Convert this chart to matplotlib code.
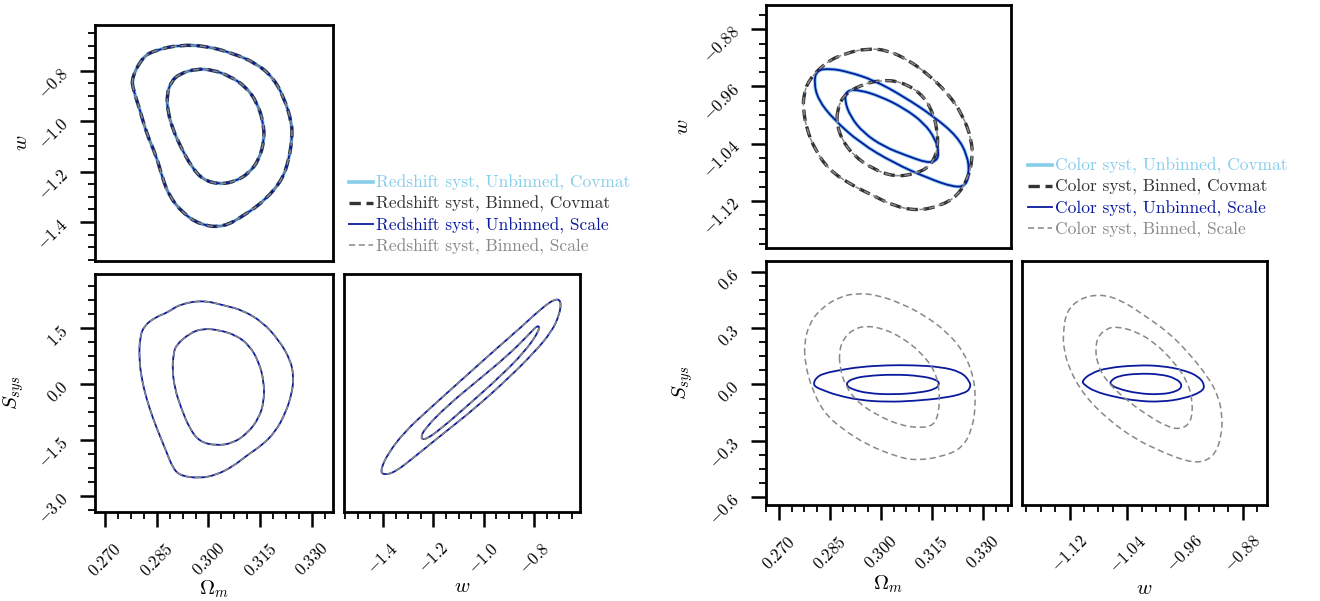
"""
Two triangle plots of contours: redshift syst (left), color syst (right).
Contours read off the reference figure, in data units.
"""

import numpy as np
import matplotlib.pyplot as plt
from matplotlib.lines import Line2D
from matplotlib.path import Path
from matplotlib.patches import PathPatch
from matplotlib.ticker import MultipleLocator, AutoMinorLocator, FuncFormatter

plt.rcParams["font.family"] = "serif"
plt.rcParams["font.serif"] = ["cmr10", "DejaVu Serif"]
plt.rcParams["mathtext.fontset"] = "cm"
plt.rcParams["axes.formatter.use_mathtext"] = True

# ---------------- data: redshift syst (left) ----------------
# (Omega_m, w) - all four chains coincide
z_omw_outer = [(0.2777, -0.829), (0.2810, -0.743), (0.2849, -0.717), (0.2916, -0.697),
               (0.2993, -0.701), (0.3070, -0.730), (0.3137, -0.769), (0.3185, -0.823),
               (0.3218, -0.902), (0.3242, -1.007), (0.3242, -1.073), (0.3233, -1.152),
               (0.3214, -1.232), (0.3166, -1.311), (0.3108, -1.370), (0.3041, -1.423),
               (0.2974, -1.410), (0.2925, -1.364), (0.2887, -1.298), (0.2868, -1.232),
               (0.2849, -1.139), (0.2820, -1.047), (0.2801, -0.954), (0.2782, -0.875)]
z_omw_inner = [(0.2916, -0.812), (0.2964, -0.792), (0.3012, -0.796), (0.3060, -0.820),
               (0.3108, -0.862), (0.3142, -0.928), (0.3159, -1.007), (0.3162, -1.073),
               (0.3147, -1.152), (0.3118, -1.205), (0.3080, -1.238), (0.3032, -1.251),
               (0.2983, -1.232), (0.2950, -1.179), (0.2921, -1.106), (0.2897, -1.034),
               (0.2882, -0.961), (0.2879, -0.895), (0.2892, -0.842)]
# (Omega_m, S_sys) - the two Scale chains coincide
z_oms_outer = [(0.2801, 1.267), (0.2815, 1.581), (0.2849, 1.803), (0.2882, 1.921),
               (0.2916, 2.135), (0.2983, 2.250), (0.3050, 2.098), (0.3098, 1.982),
               (0.3156, 1.669), (0.3204, 1.179), (0.3238, 0.643), (0.3247, 0.196),
               (0.3242, -0.249), (0.3223, -0.785), (0.3194, -1.278), (0.3156, -1.634),
               (0.3113, -1.902), (0.3070, -2.215), (0.3022, -2.438), (0.2974, -2.527),
               (0.2916, -2.456), (0.2895, -2.215), (0.2878, -1.813), (0.2858, -1.366),
               (0.2839, -0.919), (0.2820, -0.384), (0.2806, 0.152), (0.2799, 0.688)]
z_oms_inner = [(0.2906, 1.045), (0.2945, 1.357), (0.2983, 1.491), (0.3031, 1.447),
               (0.3079, 1.313), (0.3118, 1.045), (0.3146, 0.598), (0.3161, 0.063),
               (0.3161, -0.473), (0.3146, -0.919), (0.3113, -1.322), (0.3070, -1.589),
               (0.3022, -1.652), (0.2974, -1.545), (0.2945, -1.188), (0.2921, -0.652),
               (0.2902, -0.116), (0.2895, 0.420), (0.2899, 0.822)]
# (w, S_sys)
z_ws_outer = [(-1.410, -2.300), (-1.380, -1.857), (-1.314, -1.277), (-1.221, -0.697),
              (-1.089, 0.107), (-0.956, 0.911), (-0.850, 1.536), (-0.771, 2.028),
              (-0.717, 2.290), (-0.692, 2.230), (-0.700, 1.849), (-0.731, 1.402),
              (-0.797, 0.866), (-0.903, 0.152), (-1.035, -0.652), (-1.168, -1.366),
              (-1.274, -1.947), (-1.353, -2.367), (-1.400, -2.440)]
z_ws_inner = [(-1.252, -1.460), (-1.234, -1.188), (-1.142, -0.563), (-1.022, 0.107),
              (-0.903, 0.777), (-0.823, 1.313), (-0.784, 1.600), (-0.778, 1.447),
              (-0.837, 0.866), (-0.943, 0.152), (-1.062, -0.563), (-1.168, -1.188),
              (-1.230, -1.490)]

# ---------------- data: color syst (right) ----------------
# (Omega_m, w) unbinned (Covmat and Scale coincide)
c_omw_unb_outer = [(0.2811, -0.937), (0.2851, -0.935), (0.2900, -0.939), (0.2979, -0.951),
                   (0.3067, -0.974), (0.3156, -1.002), (0.3225, -1.030), (0.3255, -1.057),
                   (0.3260, -1.081), (0.3250, -1.099), (0.3215, -1.101), (0.3137, -1.088),
                   (0.3038, -1.067), (0.2939, -1.039), (0.2861, -1.006), (0.2816, -0.979),
                   (0.2803, -0.955)]
c_omw_unb_inner = [(0.2900, -0.965), (0.2939, -0.965), (0.2999, -0.974), (0.3067, -0.990),
                   (0.3127, -1.011), (0.3161, -1.034), (0.3171, -1.053), (0.3164, -1.064),
                   (0.3137, -1.067), (0.3077, -1.057), (0.3008, -1.044), (0.2949, -1.025),
                   (0.2910, -1.002), (0.2893, -0.979)]
# (Omega_m, w) binned (Covmat and Scale coincide)
c_omw_bin_outer = [(0.2772, -0.974), (0.2787, -0.951), (0.2841, -0.925), (0.2900, -0.913),
                   (0.2959, -0.907), (0.3018, -0.909), (0.3077, -0.922), (0.3137, -0.942),
                   (0.3196, -0.969), (0.3240, -0.999), (0.3267, -1.034), (0.3270, -1.062),
                   (0.3255, -1.090), (0.3225, -1.113), (0.3176, -1.127), (0.3107, -1.134),
                   (0.3038, -1.127), (0.2979, -1.113), (0.2910, -1.097), (0.2846, -1.076),
                   (0.2806, -1.048), (0.2782, -1.020), (0.2772, -0.993)]
c_omw_bin_inner = [(0.2871, -0.995), (0.2888, -0.973), (0.2939, -0.958), (0.2999, -0.951),
                   (0.3058, -0.953), (0.3117, -0.969), (0.3151, -0.993), (0.3166, -1.020),
                   (0.3168, -1.048), (0.3146, -1.072), (0.3097, -1.083), (0.3038, -1.086),
                   (0.2979, -1.076), (0.2920, -1.057), (0.2885, -1.034), (0.2871, -1.013)]
# (Omega_m, S_sys)
c_oms_unb_outer = [(0.2801, 0.000), (0.2809, 0.036), (0.2831, 0.059), (0.2880, 0.077),
                   (0.2939, 0.094), (0.3018, 0.103), (0.3097, 0.103), (0.3176, 0.094),
                   (0.3235, 0.068), (0.3262, 0.018), (0.3264, -0.021), (0.3245, -0.048),
                   (0.3186, -0.072), (0.3097, -0.088), (0.3018, -0.093), (0.2939, -0.084),
                   (0.2870, -0.057), (0.2831, -0.031), (0.2811, -0.016)]
c_oms_unb_inner = [(0.2900, 0.011), (0.2918, 0.032), (0.2959, 0.046), (0.3038, 0.054),
                   (0.3117, 0.046), (0.3166, 0.025), (0.3173, 0.000), (0.3160, -0.025),
                   (0.3117, -0.043), (0.3038, -0.054), (0.2959, -0.047), (0.2915, -0.025),
                   (0.2900, -0.007)]
c_oms_bin_outer = [(0.2774, 0.220), (0.2790, 0.327), (0.2826, 0.410), (0.2880, 0.469),
                   (0.2930, 0.487), (0.2989, 0.478), (0.3058, 0.434), (0.3127, 0.371),
                   (0.3196, 0.279), (0.3245, 0.171), (0.3275, 0.032), (0.3279, -0.111),
                   (0.3269, -0.236), (0.3240, -0.340), (0.3176, -0.388), (0.3097, -0.406),
                   (0.3038, -0.379), (0.2959, -0.321), (0.2885, -0.236), (0.2831, -0.147),
                   (0.2797, -0.021), (0.2778, 0.103)]
c_oms_bin_inner = [(0.2877, 0.175), (0.2890, 0.246), (0.2920, 0.296), (0.2959, 0.314),
                   (0.3009, 0.296), (0.3058, 0.255), (0.3117, 0.175), (0.3161, 0.068),
                   (0.3173, -0.040), (0.3171, -0.147), (0.3156, -0.218), (0.3117, -0.232),
                   (0.3058, -0.218), (0.2989, -0.164), (0.2930, -0.093), (0.2895, -0.004),
                   (0.2880, 0.086)]
# (w, S_sys)
c_ws_unb_outer = [(-1.103, 0.018), (-1.091, 0.059), (-1.068, 0.089), (-1.026, 0.103),
                  (-0.993, 0.100), (-0.961, 0.077), (-0.940, 0.041), (-0.932, -0.007),
                  (-0.937, -0.040), (-0.961, -0.075), (-0.993, -0.093), (-1.026, -0.088),
                  (-1.058, -0.066), (-1.086, -0.036), (-1.100, 0.000)]
c_ws_unb_inner = [(-1.064, 0.014), (-1.054, 0.045), (-1.026, 0.059), (-0.993, 0.055),
                  (-0.972, 0.032), (-0.963, -0.004), (-0.970, -0.036), (-0.993, -0.054),
                  (-1.026, -0.048), (-1.054, -0.021), (-1.063, 0.000)]
c_ws_bin_outer = [(-1.129, 0.264), (-1.125, 0.389), (-1.105, 0.461), (-1.077, 0.482),
                  (-1.049, 0.452), (-1.017, 0.371), (-0.984, 0.282), (-0.956, 0.175),
                  (-0.928, 0.041), (-0.914, -0.057), (-0.908, -0.164), (-0.909, -0.272),
                  (-0.918, -0.375), (-0.937, -0.418), (-0.961, -0.406), (-0.993, -0.357),
                  (-1.030, -0.289), (-1.068, -0.182), (-1.100, -0.057), (-1.121, 0.086),
                  (-1.128, 0.193)]
c_ws_bin_inner = [(-1.084, 0.189), (-1.081, 0.255), (-1.068, 0.300), (-1.054, 0.309),
                  (-1.030, 0.286), (-1.003, 0.228), (-0.975, 0.121), (-0.956, 0.014),
                  (-0.949, -0.093), (-0.951, -0.200), (-0.965, -0.239), (-0.984, -0.227),
                  (-1.012, -0.164), (-1.044, -0.075), (-1.072, 0.032), (-1.082, 0.121)]

# chain styles: label suffix, colour, line width, dash pattern
chain_suffix = ["Unbinned, Covmat", "Binned, Covmat", "Unbinned, Scale", "Binned, Scale"]
chain_color = ["#87ceeb", "#333333", "#0a1a9e", "#888888"]
chain_lw = [2.6, 2.4, 1.3, 1.1]
chain_ls = ["-", (0, (3.4, 1.7)), "-", (0, (4.0, 2.4))]

# ---------------- figure ----------------
fig = plt.figure(figsize=(13.2, 6.01), dpi=100)
W, H = 1320.0, 601.0


def add_ax(l, t, r, b):
    return fig.add_axes([l / W, 1 - b / H, (r - l) / W, (b - t) / H])


def fmt(nd):
    return FuncFormatter(lambda v, _: f"${v:.{nd}f}$")


def style(ax, xlim, ylim, xstep, ystep, xnd, ynd, showx=True, showy=True):
    ax.set_xlim(*xlim)
    ax.set_ylim(*ylim)
    for s in ax.spines.values():
        s.set_linewidth(2.0)
    ax.xaxis.set_major_locator(MultipleLocator(xstep))
    ax.yaxis.set_major_locator(MultipleLocator(ystep))
    ax.xaxis.set_minor_locator(AutoMinorLocator(4))
    ax.yaxis.set_minor_locator(AutoMinorLocator(4))
    ax.xaxis.set_major_formatter(fmt(xnd))
    ax.yaxis.set_major_formatter(fmt(ynd))
    ax.tick_params(which="major", direction="out", length=11, width=1.8, labelsize=12)
    ax.tick_params(which="minor", direction="out", length=5, width=1.3)
    ax.tick_params(axis="x", labelrotation=45, pad=9)
    ax.tick_params(axis="y", pad=10)
    for t in ax.get_yticklabels():
        t.set_rotation(45)
        t.set_rotation_mode("anchor")
        t.set_ha("right")
        t.set_va("center")
    if not showx:
        ax.tick_params(axis="x", which="both", bottom=False, labelbottom=False)
    if not showy:
        ax.tick_params(axis="y", which="both", left=False, labelleft=False)


def draw(ax, contour, i):
    # closed smooth outline: the read points are the control points of the curve
    p = np.asarray(contour)
    mids = (p + np.roll(p, -1, axis=0)) / 2
    verts = [mids[-1]]
    codes = [Path.MOVETO]
    for k in range(len(p)):
        verts += [p[k], mids[k]]
        codes += [Path.CURVE3, Path.CURVE3]
    ax.add_patch(PathPatch(Path(verts, codes), facecolor="none", edgecolor=chain_color[i],
                           lw=chain_lw[i], linestyle=chain_ls[i], zorder=2 + i))


handles = [Line2D([], [], color=chain_color[i], lw=chain_lw[i], linestyle=chain_ls[i])
           for i in range(4)]

# ---- left: redshift syst ----
om_lim_l = (0.2671, 0.3361)
w_lim_l = (-1.555, -0.618)
s_lim_l = (-3.43, 2.95)

ax1 = add_ax(95, 25, 333, 261)
ax2 = add_ax(95, 274, 333, 512)
ax3 = add_ax(344, 274, 580, 512)
style(ax1, om_lim_l, w_lim_l, 0.015, 0.2, 3, 1, showx=False)
style(ax2, om_lim_l, s_lim_l, 0.015, 1.5, 3, 1)
style(ax3, w_lim_l, s_lim_l, 0.2, 1.5, 1, 1, showy=False)

for i in range(4):
    draw(ax1, z_omw_outer, i)
    draw(ax1, z_omw_inner, i)
for i in (2, 3):
    for c in (z_oms_outer, z_oms_inner):
        draw(ax2, c, i)
    for c in (z_ws_outer, z_ws_inner):
        draw(ax3, c, i)

ax1.set_ylabel(r"$w$", fontsize=15)
ax2.set_ylabel(r"$S_{sys}$", fontsize=15)
ax2.set_xlabel(r"$\Omega_m$", fontsize=15)
ax3.set_xlabel(r"$w$", fontsize=15)
ax1.yaxis.set_label_coords(-0.27, 0.5)
ax2.yaxis.set_label_coords(-0.29, 0.5)
ax2.xaxis.set_label_coords(0.5, -0.28)
ax3.xaxis.set_label_coords(0.5, -0.277)

# ---- right: color syst ----
om_lim_r = (0.2662, 0.3383)
w_lim_r = (-1.186, -0.846)
s_lim_r = (-0.643, 0.659)

bx1 = add_ax(766, 5, 1011, 248)
bx2 = add_ax(766, 261, 1011, 505)
bx3 = add_ax(1022, 261, 1267, 505)
style(bx1, om_lim_r, w_lim_r, 0.015, 0.08, 3, 2, showx=False)
style(bx2, om_lim_r, s_lim_r, 0.015, 0.3, 3, 1)
style(bx3, w_lim_r, s_lim_r, 0.08, 0.3, 2, 1, showy=False)

for i in range(4):
    if i in (0, 2):
        draw(bx1, c_omw_unb_outer, i)
        draw(bx1, c_omw_unb_inner, i)
    else:
        draw(bx1, c_omw_bin_outer, i)
        draw(bx1, c_omw_bin_inner, i)
for c in (c_oms_unb_outer, c_oms_unb_inner):
    draw(bx2, c, 2)
for c in (c_oms_bin_outer, c_oms_bin_inner):
    draw(bx2, c, 3)
for c in (c_ws_unb_outer, c_ws_unb_inner):
    draw(bx3, c, 2)
for c in (c_ws_bin_outer, c_ws_bin_inner):
    draw(bx3, c, 3)

bx1.set_ylabel(r"$w$", fontsize=15)
bx2.set_ylabel(r"$S_{sys}$", fontsize=15)
bx2.set_xlabel(r"$\Omega_m$", fontsize=15)
bx3.set_xlabel(r"$w$", fontsize=15)
bx1.yaxis.set_label_coords(-0.30, 0.5)
bx2.yaxis.set_label_coords(-0.29, 0.5)
bx2.xaxis.set_label_coords(0.5, -0.279)
bx3.xaxis.set_label_coords(0.5, -0.307)


# ---- legends ----
def legend(prefix, x, y):
    leg = fig.legend(handles, [f"{prefix} syst, {s}" for s in chain_suffix],
                     loc="upper left", bbox_to_anchor=(x / W, 1 - y / H),
                     frameon=False, fontsize=12.5, handlelength=1.4, handletextpad=0.15,
                     labelspacing=0.28, borderpad=0, borderaxespad=0)
    for t, c in zip(leg.get_texts(), chain_color):
        t.set_color(c)
    return leg


legend("Redshift", 349, 175)
legend("Color", 1028, 158)

plt.savefig("out.png", dpi=100)
print("Saved out.png")
